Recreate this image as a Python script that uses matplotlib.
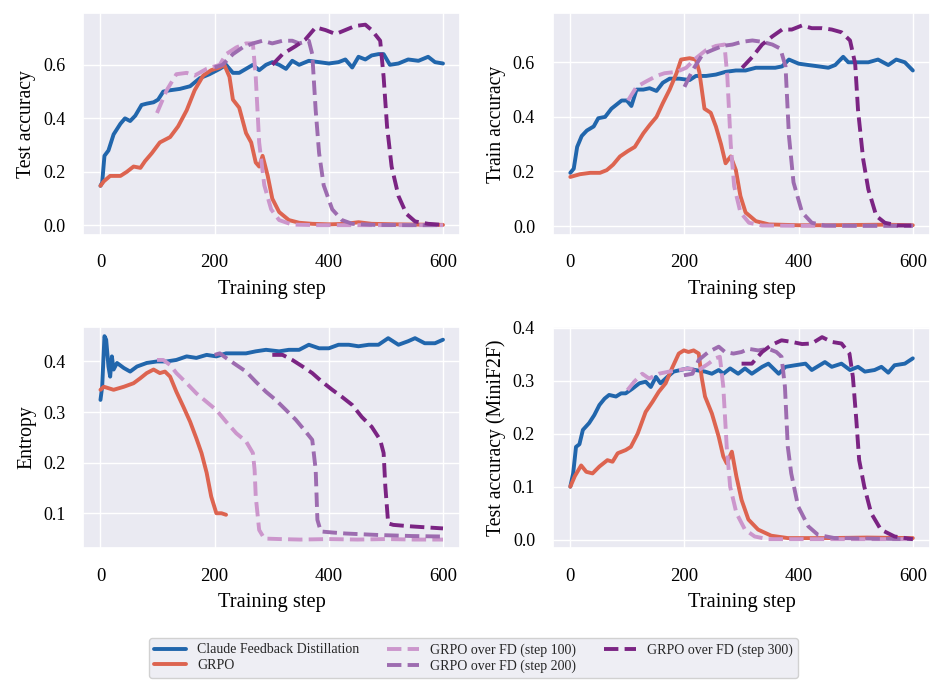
import numpy as np
import matplotlib
matplotlib.use("Agg")
import matplotlib.pyplot as plt
import seaborn as sns

#---------------------------- data ----------------------------
labels = ["Claude Feedback Distillation", "GRPO", "GRPO over FD (step 100)",
          "GRPO over FD (step 200)", "GRPO over FD (step 300)"]
colors = ["#2166ac", "#dd6450", "#cc96cc", "#9d6cb0", "#7b2483"]
styles = ["-", "-", "--", "--", "--"]

# test accuracy
cfd_test_x = [0, 3, 7, 14, 23, 35, 43, 52, 61, 72, 81, 93, 101, 110, 122, 139, 157, 174, 191, 209, 220, 232, 243,
              255, 267, 278, 290, 301, 313, 325, 336, 348, 365, 383, 400, 417, 429, 441, 452, 464, 475, 487, 496,
              507, 522, 539, 557, 574, 586, 600]
cfd_test = [0.148, 0.16, 0.26, 0.28, 0.34, 0.38, 0.40, 0.39, 0.41, 0.45, 0.455, 0.46, 0.47, 0.50, 0.505, 0.51, 0.52,
            0.55, 0.565, 0.585, 0.60, 0.57, 0.57, 0.585, 0.60, 0.58, 0.60, 0.61, 0.60, 0.585, 0.615, 0.60, 0.615,
            0.61, 0.605, 0.61, 0.62, 0.59, 0.63, 0.62, 0.635, 0.64, 0.64, 0.60, 0.605, 0.62, 0.615, 0.63, 0.61,
            0.605]
grpo_test_x = [0, 6, 17, 35, 46, 58, 70, 78, 90, 104, 122, 136, 151, 165, 180, 194, 209, 217, 226, 232, 243, 255,
               264, 272, 278, 284, 293, 301, 313, 330, 348, 371, 400, 430, 452, 475, 520, 560, 600]
grpo_test = [0.148, 0.165, 0.185, 0.185, 0.20, 0.22, 0.215, 0.24, 0.27, 0.31, 0.33, 0.37, 0.43, 0.505, 0.56, 0.58,
             0.59, 0.60, 0.555, 0.47, 0.44, 0.345, 0.31, 0.235, 0.22, 0.26, 0.185, 0.10, 0.05, 0.02, 0.01, 0.006,
             0.004, 0.006, 0.012, 0.006, 0.004, 0.003, 0.002]
s100_test_x = [99, 116, 133, 151, 165, 186, 209, 220, 238, 255, 267, 272, 278, 287, 299, 313, 336, 380, 450, 520, 600]
s100_test = [0.42, 0.505, 0.565, 0.57, 0.56, 0.585, 0.60, 0.64, 0.665, 0.68, 0.68, 0.555, 0.31, 0.15, 0.06, 0.02,
             0.003, 0.001, 0.001, 0.001, 0.001]
s200_test_x = [200, 214, 232, 249, 267, 284, 301, 319, 336, 348, 365, 371, 377, 383, 391, 406, 423, 441, 480, 540, 600]
s200_test = [0.59, 0.60, 0.64, 0.665, 0.68, 0.69, 0.68, 0.69, 0.69, 0.68, 0.69, 0.64, 0.43, 0.27, 0.15, 0.06, 0.02,
             0.006, 0.002, 0.001, 0.001]
s300_test_x = [301, 319, 342, 359, 377, 394, 412, 429, 446, 464, 475, 490, 496, 502, 510, 522, 536, 551, 574, 600]
s300_test = [0.60, 0.64, 0.67, 0.695, 0.74, 0.73, 0.715, 0.73, 0.745, 0.75, 0.73, 0.69, 0.555, 0.37, 0.22, 0.11,
             0.043, 0.015, 0.006, 0.002]

# train accuracy
cfd_train_x = [0, 6, 12, 20, 29, 41, 49, 61, 72, 81, 90, 99, 107, 116, 128, 139, 151, 162, 174, 191, 209, 220, 238,
               255, 272, 290, 307, 325, 342, 359, 371, 383, 400, 417, 435, 452, 464, 478, 487, 504, 522, 539, 557,
               571, 586, 600]
cfd_train = [0.195, 0.21, 0.29, 0.33, 0.35, 0.365, 0.395, 0.40, 0.43, 0.445, 0.46, 0.46, 0.44, 0.50, 0.50, 0.505,
             0.495, 0.525, 0.54, 0.54, 0.535, 0.55, 0.55, 0.555, 0.565, 0.57, 0.57, 0.58, 0.58, 0.58, 0.585, 0.61,
             0.595, 0.59, 0.585, 0.58, 0.59, 0.62, 0.60, 0.60, 0.60, 0.61, 0.59, 0.61, 0.60, 0.57]
grpo_train_x = [0, 17, 35, 52, 64, 75, 87, 101, 113, 128, 139, 151, 162, 174, 186, 194, 209, 220, 226, 235, 246, 255,
                264, 272, 281, 290, 298, 307, 325, 348, 400, 450, 500, 550, 600]
grpo_train = [0.18, 0.19, 0.195, 0.195, 0.205, 0.225, 0.255, 0.275, 0.29, 0.34, 0.37, 0.40, 0.45, 0.50, 0.56, 0.61,
              0.615, 0.61, 0.565, 0.43, 0.415, 0.365, 0.30, 0.23, 0.255, 0.205, 0.11, 0.05, 0.018, 0.006, 0.003,
              0.003, 0.004, 0.005, 0.003]
s100_train_x = [101, 116, 133, 151, 165, 186, 203, 220, 238, 255, 270, 275, 281, 287, 298, 313, 336, 400, 500, 600]
s100_train = [0.46, 0.51, 0.53, 0.55, 0.56, 0.565, 0.58, 0.615, 0.645, 0.66, 0.665, 0.55, 0.30, 0.146, 0.05, 0.012,
              0.002, 0.001, 0.001, 0.001]
s200_train_x = [200, 214, 232, 249, 267, 284, 301, 319, 336, 354, 368, 377, 383, 391, 406, 423, 446, 500, 600]
s200_train = [0.51, 0.57, 0.63, 0.645, 0.66, 0.665, 0.675, 0.68, 0.675, 0.665, 0.65, 0.585, 0.33, 0.16, 0.05, 0.012,
              0.002, 0.001, 0.001]
s300_train_x = [301, 319, 336, 354, 371, 388, 406, 423, 441, 458, 475, 490, 499, 504, 513, 522, 536, 551, 574, 600]
s300_train = [0.58, 0.62, 0.665, 0.695, 0.72, 0.72, 0.735, 0.725, 0.725, 0.72, 0.71, 0.68, 0.595, 0.425, 0.245, 0.135,
              0.037, 0.012, 0.002, 0.002]

# entropy
cfd_ent_x = [0, 3, 7, 10, 14, 17, 20, 23, 29, 41, 52, 64, 81, 99, 116, 133, 151, 168, 186, 203, 220, 238, 255, 272,
             290, 313, 330, 348, 365, 383, 400, 417, 435, 452, 470, 487, 504, 522, 539, 551, 568, 586, 600]
cfd_ent = [0.324, 0.35, 0.45, 0.443, 0.39, 0.37, 0.41, 0.384, 0.397, 0.387, 0.38, 0.39, 0.397, 0.40, 0.40, 0.403,
           0.41, 0.407, 0.413, 0.41, 0.416, 0.416, 0.416, 0.42, 0.423, 0.42, 0.423, 0.423, 0.433, 0.426, 0.426, 0.433,
           0.433, 0.43, 0.433, 0.433, 0.446, 0.433, 0.44, 0.446, 0.436, 0.436, 0.443]
grpo_ent_x = [0, 6, 23, 41, 58, 70, 81, 93, 104, 113, 122, 133, 145, 157, 168, 177, 186, 194, 203, 212, 220]
grpo_ent = [0.344, 0.35, 0.344, 0.35, 0.357, 0.367, 0.377, 0.384, 0.377, 0.38, 0.37, 0.34, 0.311, 0.281, 0.248, 0.219,
            0.18, 0.133, 0.10, 0.10, 0.097]
s100_ent_x = [99, 110, 122, 133, 151, 168, 186, 203, 220, 238, 255, 267, 270, 272, 278, 287, 313, 350, 400, 450, 500,
              550, 600]
s100_ent = [0.403, 0.403, 0.393, 0.377, 0.357, 0.337, 0.32, 0.304, 0.281, 0.258, 0.242, 0.219, 0.186, 0.133, 0.067,
            0.05, 0.049, 0.048, 0.049, 0.048, 0.049, 0.048, 0.048]
s200_ent_x = [200, 209, 220, 238, 255, 272, 290, 307, 325, 342, 359, 371, 377, 380, 386, 406, 429, 487, 545, 600]
s200_ent = [0.413, 0.416, 0.407, 0.393, 0.38, 0.36, 0.34, 0.324, 0.304, 0.285, 0.262, 0.245, 0.186, 0.087, 0.064,
            0.062, 0.06, 0.057, 0.055, 0.054]
s300_ent_x = [301, 319, 336, 354, 371, 388, 406, 423, 441, 458, 475, 490, 496, 499, 504, 513, 545, 600]
s300_ent = [0.413, 0.413, 0.403, 0.39, 0.377, 0.36, 0.344, 0.33, 0.314, 0.29, 0.271, 0.245, 0.219, 0.153, 0.08,
            0.077, 0.074, 0.07]

# test accuracy on MiniF2F
cfd_mf_x = [0, 5, 10, 16, 22, 33, 42, 51, 60, 68, 80, 89, 97, 109, 121, 132, 141, 150, 158, 170, 181, 193, 205, 219,
            236, 248, 260, 268, 280, 294, 306, 318, 336, 347, 365, 377, 394, 412, 423, 446, 458, 475, 490, 504, 516,
            533, 545, 557, 568, 586, 600]
cfd_mf = [0.10, 0.125, 0.175, 0.18, 0.207, 0.22, 0.235, 0.254, 0.266, 0.273, 0.27, 0.276, 0.276, 0.285, 0.295, 0.298,
          0.288, 0.307, 0.295, 0.307, 0.317, 0.32, 0.323, 0.32, 0.317, 0.313, 0.32, 0.313, 0.323, 0.313, 0.323, 0.313,
          0.326, 0.332, 0.313, 0.326, 0.329, 0.332, 0.32, 0.335, 0.326, 0.332, 0.32, 0.326, 0.317, 0.32, 0.326, 0.315,
          0.329, 0.332, 0.342]
grpo_mf_x = [0, 8, 19, 28, 39, 51, 65, 74, 83, 97, 106, 118, 132, 144, 155, 167, 178, 190, 199, 207, 216, 225, 230,
             236, 248, 260, 268, 274, 283, 291, 300, 312, 329, 352, 381, 450, 520, 600]
grpo_mf = [0.10, 0.12, 0.14, 0.128, 0.125, 0.138, 0.15, 0.147, 0.163, 0.169, 0.175, 0.20, 0.241, 0.26, 0.279, 0.295,
           0.323, 0.351, 0.357, 0.354, 0.357, 0.351, 0.307, 0.27, 0.238, 0.194, 0.157, 0.144, 0.166, 0.119, 0.075,
           0.038, 0.019, 0.0075, 0.003, 0.003, 0.004, 0.003]
s100_mf_x = [100, 112, 126, 138, 155, 173, 190, 207, 225, 242, 254, 262, 268, 274, 280, 291, 306, 323, 346, 400, 500,
             600]
s100_mf = [0.282, 0.298, 0.313, 0.304, 0.313, 0.317, 0.32, 0.323, 0.32, 0.332, 0.342, 0.345, 0.288, 0.175, 0.10,
           0.05, 0.019, 0.006, 0.001, 0.001, 0.001, 0.001]
s200_mf_x = [199, 214, 225, 242, 260, 271, 286, 300, 312, 329, 347, 361, 370, 376, 381, 387, 399, 417, 434, 463, 530,
             600]
s200_mf = [0.31, 0.313, 0.339, 0.354, 0.364, 0.354, 0.351, 0.354, 0.36, 0.357, 0.36, 0.354, 0.345, 0.288, 0.175,
           0.125, 0.063, 0.025, 0.009, 0.003, 0.002, 0.001]
s300_mf_x = [300, 318, 336, 352, 370, 388, 406, 423, 441, 458, 475, 489, 495, 501, 506, 515, 527, 544, 568, 600]
s300_mf = [0.332, 0.332, 0.354, 0.367, 0.376, 0.373, 0.369, 0.37, 0.382, 0.373, 0.37, 0.351, 0.307, 0.226, 0.15,
           0.10, 0.05, 0.019, 0.006, 0.001]
#--------------------------------------------------------------------------------------

sns.set_theme(style="darkgrid")
plt.rcParams["font.family"] = ["Liberation Serif", "DejaVu Serif"]

panels = [
    ("Test accuracy", [(cfd_test_x, cfd_test), (grpo_test_x, grpo_test), (s100_test_x, s100_test),
                       (s200_test_x, s200_test), (s300_test_x, s300_test)],
     (-0.035, 0.793), [0.0, 0.2, 0.4, 0.6]),
    ("Train accuracy", [(cfd_train_x, cfd_train), (grpo_train_x, grpo_train), (s100_train_x, s100_train),
                        (s200_train_x, s200_train), (s300_train_x, s300_train)],
     (-0.032, 0.78), [0.0, 0.2, 0.4, 0.6]),
    ("Entropy", [(cfd_ent_x, cfd_ent), (grpo_ent_x, grpo_ent), (s100_ent_x, s100_ent),
                 (s200_ent_x, s200_ent), (s300_ent_x, s300_ent)],
     (0.031, 0.469), [0.1, 0.2, 0.3, 0.4]),
    ("Test accuracy (MiniF2F)", [(cfd_mf_x, cfd_mf), (grpo_mf_x, grpo_mf), (s100_mf_x, s100_mf),
                                 (s200_mf_x, s200_mf), (s300_mf_x, s300_mf)],
     (-0.016, 0.402), [0.0, 0.1, 0.2, 0.3, 0.4]),
]

fig, axes = plt.subplots(2, 2, figsize=(9.47, 6.93), dpi=100)
fig.subplots_adjust(left=0.088, right=0.982, top=0.981, bottom=0.209, wspace=0.247, hspace=0.414)

for ax, (ylab, series, ylim, yticks) in zip(axes.flat, panels):
    for (xs, ys), c, ls, lab in zip(series, colors, styles, labels):
        ax.plot(xs, ys, color=c, linestyle=ls, linewidth=2.8, label=lab)
    ax.set_xlim(-30, 630)
    ax.set_ylim(*ylim)
    ax.set_xticks([0, 200, 400, 600])
    ax.set_yticks(yticks)
    ax.set_yticklabels(["%.1f" % v for v in yticks])
    ax.set_xlabel("Training step", fontsize=14.8, color="black", labelpad=6)
    ax.set_ylabel(ylab, fontsize=14.2, color="black", labelpad=5)
    ax.tick_params(axis="x", labelsize=13.5, colors="black", length=0, pad=14)
    ax.tick_params(axis="y", labelsize=13, colors="black", length=0, pad=13)

handles, labs = axes[0, 0].get_legend_handles_labels()
leg = fig.legend(handles, labs, loc="lower center", bbox_to_anchor=(0.5, 0.012), ncol=3, fontsize=10,
                 frameon=True, fancybox=True, handlelength=2.3, columnspacing=2.0, labelspacing=0.2,
                 borderpad=0.35)
leg.get_frame().set_edgecolor("#c8c8c8")
leg.get_frame().set_facecolor("#eaeaf2")

fig.savefig("out.png", dpi=100)
